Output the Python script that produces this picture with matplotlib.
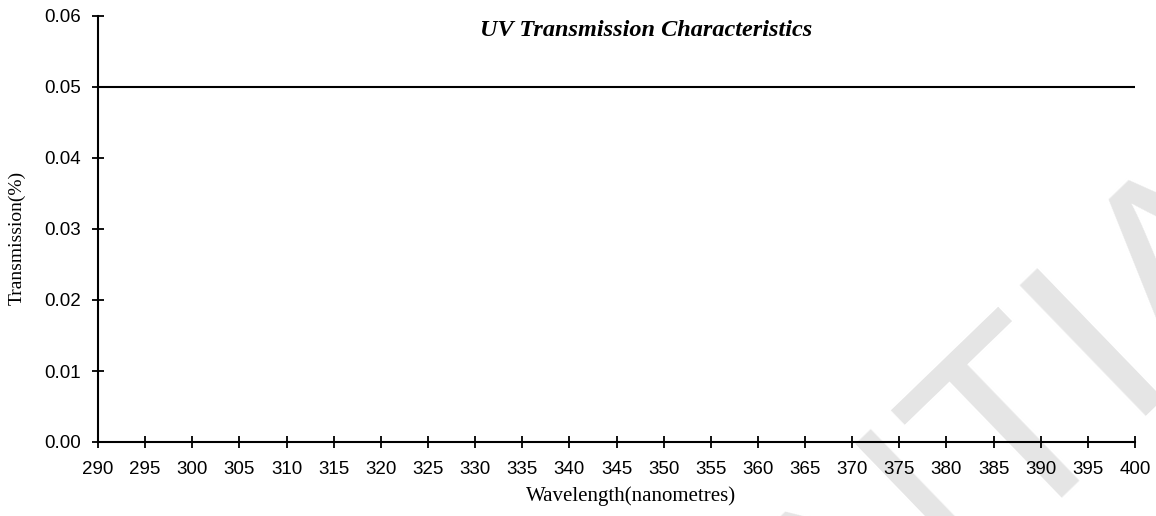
import numpy as np
import matplotlib
matplotlib.use('Agg')
import matplotlib.pyplot as plt
from matplotlib import rcParams

rcParams['font.family'] = 'sans-serif'
rcParams['font.sans-serif'] = ['Liberation Sans', 'DejaVu Sans']
rcParams['font.size'] = 13.5

# data
wavelength = [290, 400]
transmission = [0.05, 0.05]
x_ticks = list(range(290, 401, 5))
y_ticks = [0.00, 0.01, 0.02, 0.03, 0.04, 0.05, 0.06]

W, H, DPI = 1156, 516, 100
fig = plt.figure(figsize=(W / DPI, H / DPI), dpi=DPI)

# axes placed in pixel terms: x from 98 to 1135, y from 16 to 442
ax = fig.add_axes([98 / W, 1 - 442 / H, (1135 - 98) / W, (442 - 16) / H])
ax.set_zorder(1)
ax.patch.set_visible(False)

ax.plot(wavelength, transmission, color='k', linewidth=1.5, zorder=3)

ax.set_xlim(290, 400)
ax.set_ylim(0, 0.06)
ax.set_xticks(x_ticks)
ax.set_yticks(y_ticks)
ax.set_yticklabels(['%.2f' % v for v in y_ticks])

for side in ['top', 'right']:
    ax.spines[side].set_visible(False)
for side in ['left', 'bottom']:
    ax.spines[side].set_linewidth(1.5)
    ax.spines[side].set_color('k')

ax.tick_params(axis='both', direction='inout', length=9, width=1.3,
               colors='k', labelsize=13.5)
ax.tick_params(axis='y', pad=7.5)
ax.tick_params(axis='x', pad=9.5)

serif = ['Liberation Serif', 'DejaVu Serif']
ax.set_xlabel('Wavelength(nanometres)', family=serif, fontsize=15,
              va='center')
ax.xaxis.set_label_coords((631 - 98) / 1037, (442 - 496) / 426)
ax.set_ylabel('Transmission(%)', family=serif, fontsize=14, va='center')
ax.yaxis.set_label_coords((17 - 98) / 1037, (442 - 238) / 426)

fig.text(646 / W, 1 - 30 / H, 'UV Transmission Characteristics',
         family=serif, fontsize=17.5, fontweight='bold', style='italic',
         ha='center', va='center')

# watermark behind the plot
fig.text(19 / W, 1 - 1492 / H, 'CONFIDENTIAL', fontsize=190,
         color='#e5e5e5', rotation=44, rotation_mode='anchor',
         ha='left', va='baseline', zorder=0)

fig.savefig('out.png', dpi=DPI)
